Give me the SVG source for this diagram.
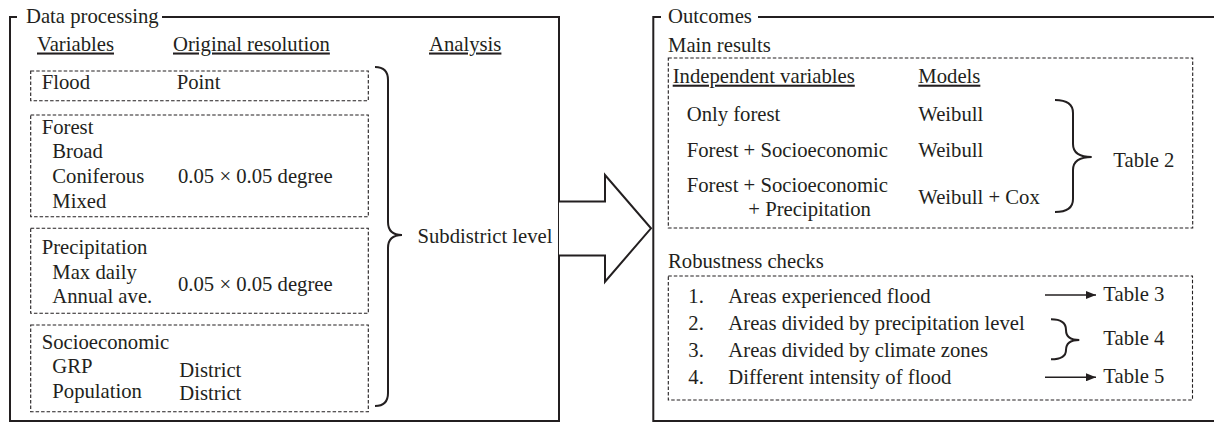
<svg xmlns="http://www.w3.org/2000/svg" width="1214" height="424" viewBox="0 0 1214 424">
<style>
text{font-family:"Liberation Serif","Times New Roman",serif;font-size:20.7px;fill:#231f20}
.u{text-decoration:underline}
.panel{fill:none;stroke:#231f20;stroke-width:2}
.dash{fill:none;stroke:#231f20;stroke-width:1.1;stroke-dasharray:3.5 2}
.brace{fill:none;stroke:#231f20;stroke-width:2;stroke-linejoin:miter}
.conn{fill:none;stroke:#231f20;stroke-width:1.5}
</style>
<defs>
<marker id="ah" viewBox="0 0 10 8" refX="10" refY="4" markerWidth="10" markerHeight="8" markerUnits="userSpaceOnUse" orient="auto">
<path d="M0,0 L10,4 L0,8 Z" fill="#231f20"/>
</marker>
</defs>
<rect width="1214" height="424" fill="#fff"/>

<g id="data-processing">
<path class="panel" d="M17,17 H10 V421 H559 V17 H162"/>
<text x="26" y="23">Data processing</text>
<text class="u" x="37" y="50.5">Variables</text>
<text class="u" x="173" y="50.5">Original resolution</text>
<text class="u" x="429" y="50.5">Analysis</text>
</g>

<g id="flood">
<rect class="dash" x="30.7" y="71" width="337.6" height="29.7"/>
<text x="41.7" y="89">Flood</text>
<text x="176.7" y="89">Point</text>
</g>

<g id="forest">
<rect class="dash" x="30.7" y="115" width="337.6" height="101.7"/>
<text x="41.7" y="133.5">Forest</text>
<text x="52.3" y="158">Broad</text>
<text x="52.3" y="183">Coniferous</text>
<text x="52.3" y="207.5">Mixed</text>
<text x="178" y="183">0.05 × 0.05 degree</text>
</g>

<g id="precipitation">
<rect class="dash" x="30.7" y="228.3" width="337.6" height="85"/>
<text x="41.7" y="254">Precipitation</text>
<text x="52.3" y="278.5">Max daily</text>
<text x="52.3" y="303">Annual ave.</text>
<text x="178" y="290.5">0.05 × 0.05 degree</text>
</g>

<g id="socioeconomic">
<rect class="dash" x="30.7" y="325" width="337.6" height="86.7"/>
<text x="41.7" y="349">Socioeconomic</text>
<text x="52.3" y="373">GRP</text>
<text x="52.3" y="398">Population</text>
<text x="179.3" y="376.5">District</text>
<text x="179.3" y="400">District</text>
</g>

<g id="analysis">
<path class="brace" d="M375,67 Q388,67 388,80 V222 Q388,235 402,235 Q388,235 388,248 V393 Q388,406 375,406"/>
<text x="417.5" y="242.7">Subdistrict level</text>
</g>

<g id="outcomes">
<path class="panel" d="M661,17 H653.3 V421 H1216 M758,17 H1216"/>
<text x="668" y="23">Outcomes</text>
</g>

<g id="main-results">
<text x="668" y="51.7">Main results</text>
<rect class="dash" x="668.3" y="58" width="524.4" height="170"/>
<text class="u" x="672.7" y="82.7">Independent variables</text>
<text class="u" x="918.3" y="82.7">Models</text>
<text x="686.7" y="121">Only forest</text>
<text x="918.3" y="121">Weibull</text>
<text x="686.7" y="156.7">Forest + Socioeconomic</text>
<text x="918.3" y="156.7">Weibull</text>
<text x="686.7" y="191.7">Forest + Socioeconomic</text>
<text x="748.3" y="215.7">+ Precipitation</text>
<text x="918.3" y="204">Weibull + Cox</text>
<path class="brace" d="M1055,100 Q1073,100 1073,113 V144 Q1073,157 1091.7,157 Q1073,157 1073,170 V199 Q1073,212 1055,212"/>
<text x="1113.3" y="166.7">Table 2</text>
</g>

<g id="robustness">
<text x="668" y="268.3">Robustness checks</text>
<rect class="dash" x="668.3" y="276" width="524.2" height="124"/>
<text x="688.3" y="302.5">1.</text>
<text x="728.3" y="302.5">Areas experienced flood</text>
<text x="688.3" y="330">2.</text>
<text x="728.3" y="330">Areas divided by precipitation level</text>
<text x="688.3" y="357">3.</text>
<text x="728.3" y="357">Areas divided by climate zones</text>
<text x="688.3" y="384">4.</text>
<text x="728.3" y="384">Different intensity of flood</text>
<path class="brace" d="M1051,319.3 Q1066,319.3 1066,330 Q1066,340 1079.3,340 Q1066,340 1066,350 Q1066,359.3 1051,359.3"/>
<text x="1103.3" y="300.5">Table 3</text>
<text x="1103.3" y="345">Table 4</text>
<text x="1103.3" y="383.3">Table 5</text>
</g>

<g id="connectors">
<path id="big-arrow" d="M559,201.5 H605 V175 L651,228.3 L605,281.7 V255.5 H559" fill="#fff" stroke="#231f20" stroke-width="2" stroke-linejoin="miter"/>
<line class="conn" x1="1045" y1="295" x2="1096" y2="295" marker-end="url(#ah)"/>
<line class="conn" x1="1045" y1="377.3" x2="1096" y2="377.3" marker-end="url(#ah)"/>
</g>
</svg>
